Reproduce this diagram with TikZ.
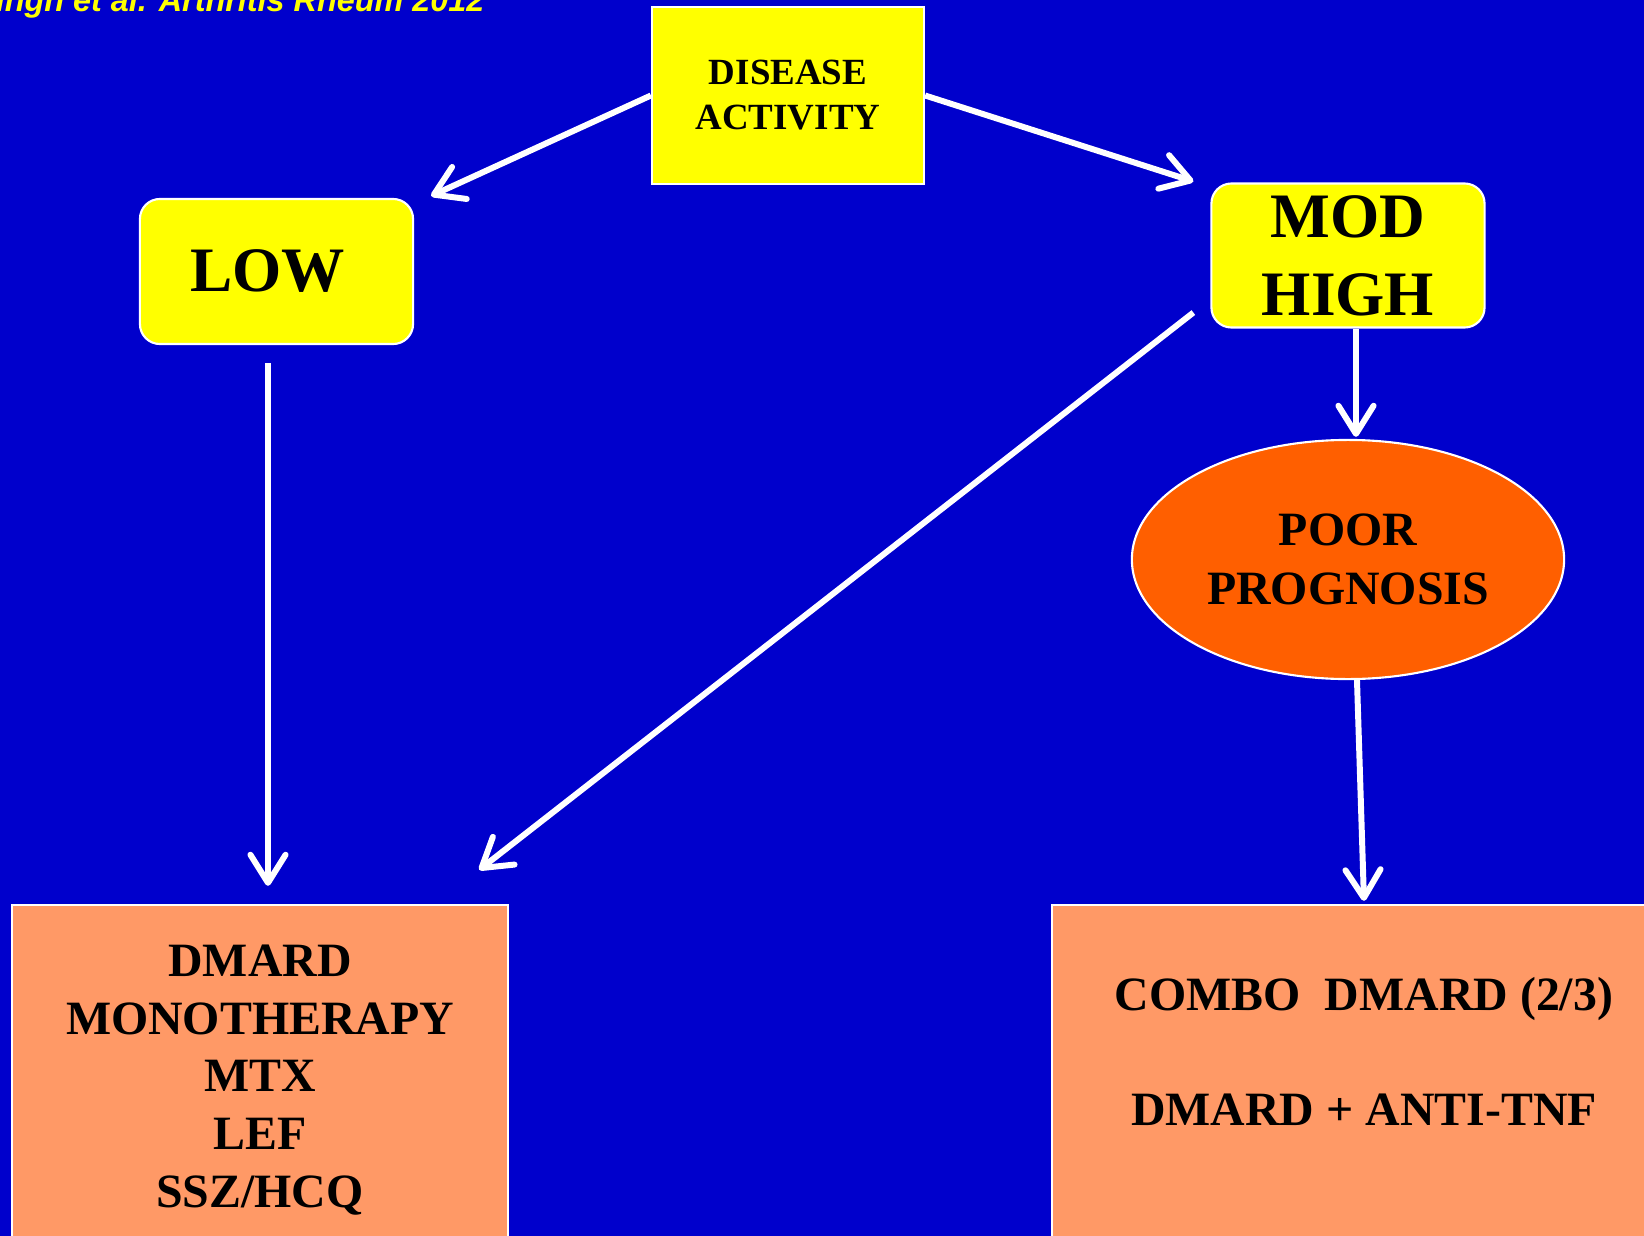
\documentclass[tikz,border=0pt]{standalone}
\usepackage{fontspec}
\setmainfont{Liberation Serif}
\newfontfamily\citefont{Liberation Sans}
\usetikzlibrary{arrows.meta,calc,shapes.geometric}
\definecolor{slide}{HTML}{0000CC}
\definecolor{hilite}{HTML}{FFFF00}
\definecolor{poorfill}{HTML}{FF5F00}
\definecolor{treatfill}{HTML}{FF9966}
\tikzset{
  actbox/.style={rectangle,draw=white,line width=.6pt,fill=hilite,align=center,
    minimum width=2.72cm,minimum height=1.77cm,font=\fontsize{10.5}{12.8}\selectfont\bfseries},
  levelbox/.style={rectangle,rounded corners=.2cm,draw=white,line width=.6pt,fill=hilite,align=center,
    minimum width=2.73cm},
  progell/.style={ellipse,draw=white,line width=.6pt,fill=poorfill,inner sep=0pt,align=center,
    minimum width=4.32cm,minimum height=2.39cm,font=\fontsize{13.6}{16.8}\selectfont\bfseries},
  treatbox/.style={rectangle,draw=white,line width=.6pt,fill=treatfill,align=center,
    minimum height=3.5cm,font=\fontsize{13.6}{16.4}\selectfont\bfseries},
  flow/.style={draw=white,line width=1.7pt,-{Straight Barb[round,length=8pt,width=10pt]}}
}

\begin{document}
\begin{tikzpicture}[x=0.01cm,y=-0.01cm]
  \useasboundingbox (0,0) rectangle (1644,1236);
  \clip (0,0) rectangle (1644,1236);
  \fill[slide] (0,0) rectangle (1644,1236);
  \node[anchor=base east,text=hilite,font=\citefont\fontsize{9.2}{11}\selectfont\bfseries\itshape,inner sep=0pt]
    (cite) at (485,11) {Singh et al. Arthritis Rheum 2012};
  \node[actbox] (act) at (788,95.5) {DISEASE\\ACTIVITY};
  \node[levelbox,minimum height=1.45cm,font=\fontsize{18}{22}\selectfont\bfseries] (low) at (276.5,271.5) {\hspace*{-5pt}LOW};
  \node[levelbox,minimum height=1.43cm,font=\fontsize{18}{22.2}\selectfont\bfseries] (mod) at (1348,255.5) {MOD\\HIGH};
  \node[progell] (poor) at (1348,559.5) {POOR\\PROGNOSIS};
  \node[treatbox,minimum width=4.96cm] (mono) at (260,1080) {DMARD\\MONOTHERAPY\\MTX\\LEF\\SSZ/HCQ};
  \node[treatbox,minimum width=6.24cm] (combo) at (1364,1080) {COMBO\ \ DMARD (2/3)\\~\\DMARD + ANTI-TNF\\~};
  \draw[flow] (act.west) -- ($(low.north east)+(17,-2)$);
  \draw[flow] (act.east) -- ($(mod.north west)+(-17,-1)$);
  \draw[flow] ($(low.south)+(-8.5,18)$) -- ($(mono.north)+(8,-18)$);
  \draw[flow] ($(mod.south west)+(-17,-16)$) -- ($(mono.north east)+(-30,-34)$);
  \draw[flow] ($(mod.south)+(8,0)$) -- ($(poor.north)+(8,-2)$);
  \draw[flow] ($(poor.south)+(9,0)$) -- ($(combo.north)+(0,-3)$);
\end{tikzpicture}
\end{document}
